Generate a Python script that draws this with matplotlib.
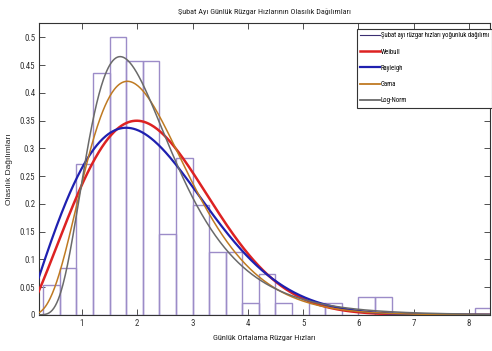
import math
import numpy as np
import matplotlib
matplotlib.use("Agg")
import matplotlib.pyplot as plt
from matplotlib import font_manager
from matplotlib.lines import Line2D

# Histogram of February daily mean wind speeds (density, bin width 0.3 m/s)
bin_edges_left = [0.3, 0.6, 0.9, 1.2, 1.5, 1.8, 2.1, 2.4, 2.7, 3.0, 3.3, 3.6,
                  3.9, 4.2, 4.5, 4.8, 5.1, 5.4, 5.7, 6.0, 6.3, 6.6, 6.9, 7.2,
                  7.5, 7.8, 8.1]
densities = [0.053, 0.085, 0.271, 0.436, 0.500, 0.458, 0.458, 0.146, 0.282,
             0.198, 0.114, 0.114, 0.021, 0.073, 0.021, 0.0, 0.021, 0.021,
             0.0, 0.032, 0.032, 0.0, 0.0, 0.0, 0.0, 0.0, 0.012]
bin_width = 0.3

# Fitted distribution parameters
weibull_k, weibull_lam = 2.2, 2.62
rayleigh_sigma = 1.8
gamma_shape, gamma_scale = 4.85, 0.473
lognorm_mu, lognorm_sigma = 0.734, 0.457

x_ticks = [1, 2, 3, 4, 5, 6, 7, 8]
y_ticks = [0, 0.05, 0.1, 0.15, 0.2, 0.25, 0.3, 0.35, 0.4, 0.45, 0.5]
y_tick_labels = ["0", "0.05", "0.1", "0.15", "0.2", "0.25", "0.3", "0.35",
                 "0.4", "0.45", "0.5"]

title = "Şubat Ayı Günlük Rüzgar Hızlarının Olasılık Dağılımları"
xlabel = "Günlük Ortalama Rüzgar Hızları"
ylabel = "Olasılık Dağılımları"
legend_labels = ["Şubat ayı rüzgar hızları yoğunluk dağılımı", "Weibull",
                 "Rayleigh", "Gama", "Log-Norm"]


def weibull_pdf(x, k, lam):
    return (k / lam) * (x / lam) ** (k - 1) * np.exp(-(x / lam) ** k)


def rayleigh_pdf(x, s):
    return x / s ** 2 * np.exp(-x ** 2 / (2 * s ** 2))


def gamma_pdf(x, a, theta):
    return x ** (a - 1) * np.exp(-x / theta) / (math.gamma(a) * theta ** a)


def lognorm_pdf(x, mu, s):
    return np.exp(-(np.log(x) - mu) ** 2 / (2 * s ** 2)) / (x * s * np.sqrt(2 * np.pi))


def first_available(names):
    for name in names:
        try:
            font_manager.findfont(name, fallback_to_default=False)
            return name
        except ValueError:
            continue
    return None


# Prefer a condensed face; otherwise use a regular sans at a smaller size
condensed = first_available(["Liberation Sans Narrow", "Roboto Condensed",
                             "Open Sans Condensed", "DejaVu Sans Condensed"])
if condensed:
    main_font, fs_scale = condensed, 1.0
else:
    main_font, fs_scale = "Liberation Sans", 0.8
plt.rcParams["font.family"] = [main_font, "DejaVu Sans"]

fig = plt.figure(figsize=(4.92, 3.51), dpi=100)
ax = fig.add_axes([0.080, 0.103, 0.916, 0.832])

hist_color = "#9c8cc8"
ax.bar(bin_edges_left, densities, width=bin_width, align="edge",
       facecolor="none", edgecolor=hist_color, linewidth=1.0, zorder=2)

xs = np.linspace(0.2, 8.5, 600)
c_weibull = "#dd2222"
c_rayleigh = "#1f20b0"
c_gamma = "#bf7a22"
c_lognorm = "#6a6a6a"
ax.plot(xs, weibull_pdf(xs, weibull_k, weibull_lam), color=c_weibull, lw=1.8, zorder=3)
ax.plot(xs, rayleigh_pdf(xs, rayleigh_sigma), color=c_rayleigh, lw=1.6, zorder=3)
ax.plot(xs, gamma_pdf(xs, gamma_shape, gamma_scale), color=c_gamma, lw=1.1, zorder=4)
ax.plot(xs, lognorm_pdf(xs, lognorm_mu, lognorm_sigma), color=c_lognorm, lw=1.1, zorder=4)

ax.set_xlim(0.23, 8.38)
ax.set_ylim(0, 0.526)
ax.set_xticks(x_ticks)
ax.set_xticklabels([str(t) for t in x_ticks])
ax.set_yticks(y_ticks)
ax.set_yticklabels(y_tick_labels)
ax.tick_params(direction="in", top=True, right=True, length=4, width=0.6,
               labelsize=6.4 * fs_scale, colors="#333333", pad=3)
for sp in ax.spines.values():
    sp.set_color("#333333")
    sp.set_linewidth(0.8)

ax.set_title(title, fontsize=5.9 * fs_scale, color="#222222", pad=6)
ax.set_xlabel(xlabel, fontsize=6 * fs_scale, color="#222222", labelpad=5)
ax.set_ylabel(ylabel, fontsize=6, color="#222222",
              family=["Liberation Sans", "DejaVu Sans"])
ax.yaxis.set_label_coords(-0.058, 0.5)

handles = [
    Line2D([], [], color="#3b2f72", lw=0.8),
    Line2D([], [], color=c_weibull, lw=1.8),
    Line2D([], [], color=c_rayleigh, lw=1.6),
    Line2D([], [], color=c_gamma, lw=1.3),
    Line2D([], [], color=c_lognorm, lw=1.3),
]
leg = fig.legend(handles, legend_labels, loc="upper left",
                 bbox_to_anchor=(357 / 492, 1 - 29 / 351),
                 prop={"size": 4.9 * fs_scale}, frameon=True, fancybox=False,
                 edgecolor="#333333", framealpha=1, borderpad=0.5,
                 handlelength=2.9, handletextpad=0.1, labelspacing=1.35,
                 borderaxespad=0)
leg.get_frame().set_linewidth(0.8)

fig.savefig("out.png", dpi=100)
